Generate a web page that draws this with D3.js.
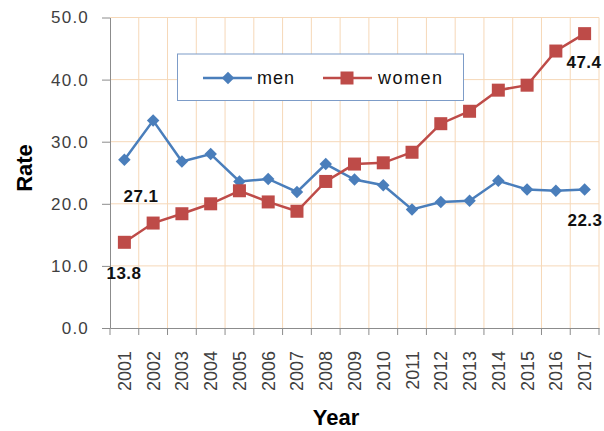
<!DOCTYPE html>
<html>
<head>
<meta charset="utf-8">
<script src="https://cdn.jsdelivr.net/npm/d3@7"></script>
<style>
  body { margin: 0; background: #fff; }
  svg { font-family: Arial, "Liberation Sans", sans-serif; }
</style>
</head>
<body>
<div id="chart"></div>
<script>
// --- Data ---
const years = ['2001','2002','2003','2004','2005','2006','2007','2008','2009',
               '2010','2011','2012','2013','2014','2015','2016','2017'];
const men =   [27.1, 33.4, 26.8, 28.0, 23.6, 24.0, 21.9, 26.4, 23.9, 23.0, 19.1, 20.3, 20.5, 23.7, 22.3, 22.1, 22.3];
const women = [13.8, 16.9, 18.4, 20.0, 22.1, 20.3, 18.8, 23.6, 26.4, 26.6, 28.3, 32.9, 34.9, 38.3, 39.1, 44.6, 47.4];
const yTicks = [0, 10, 20, 30, 40, 50];

// --- Setup ---
const W = 604, H = 431;
const m = { left: 110, right: 5, top: 17.5, bottom: 103 };
const svg = d3.select('#chart').append('svg').attr('width', W).attr('height', H);

const x = d3.scaleBand().domain(years).range([m.left, W - m.right]);
const y = d3.scaleLinear().domain([0, 50]).range([H - m.bottom, m.top]);

const gridColor = '#f6d8b8';
const axisColor = '#8c8c8c';
const blue = '#4a7ebb', red = '#be4b48';
const font = 'Arial, "Liberation Sans", sans-serif';

// grid
const grid = svg.append('g');
grid.selectAll('.hg').data(yTicks.slice(1)).join('line')
  .attr('x1', m.left).attr('x2', W - m.right)
  .attr('y1', d => y(d)).attr('y2', d => y(d))
  .attr('stroke', gridColor).attr('stroke-width', 1);
grid.selectAll('.vg').data(years).join('line')
  .attr('x1', d => x(d) + x.bandwidth()).attr('x2', d => x(d) + x.bandwidth())
  .attr('y1', y(50)).attr('y2', y(0))
  .attr('stroke', gridColor).attr('stroke-width', 1);

// y axis
const yAxis = svg.append('g').attr('transform', `translate(${m.left},0)`)
  .call(d3.axisLeft(y).tickValues(yTicks).tickFormat(d3.format('.1f')).tickSize(8).tickSizeOuter(0));
yAxis.select('.domain').attr('stroke', axisColor);
yAxis.selectAll('.tick line').attr('stroke', axisColor);
yAxis.selectAll('.tick text').attr('x', -21).attr('fill', '#404040')
  .style('font-size', '17px').style('letter-spacing', '1.2px').style('font-family', font);

// x axis
const xAxis = svg.append('g').attr('transform', `translate(0,${y(0)})`)
  .call(d3.axisBottom(x).tickSize(0).tickSizeOuter(0));
xAxis.select('.domain').attr('stroke', axisColor);
xAxis.selectAll('.tick text')
  .attr('transform', 'rotate(-90)')
  .attr('x', -23).attr('y', 0).attr('dy', '0.36em')
  .attr('text-anchor', 'end').attr('fill', '#404040')
  .style('font-size', '18px').style('font-family', font);
// band boundary tick marks
xAxis.selectAll('.bt').data([years[0]].concat(years)).join('line')
  .attr('x1', (d, i) => i === 0 ? x(d) : x(d) + x.bandwidth())
  .attr('x2', (d, i) => i === 0 ? x(d) : x(d) + x.bandwidth())
  .attr('y1', 0).attr('y2', 7).attr('stroke', axisColor);

// axis titles
svg.append('text').attr('transform', `translate(32,168) rotate(-90)`)
  .attr('text-anchor', 'middle').attr('font-weight', 'bold').attr('font-size', 22)
  .text('Rate');
svg.append('text').attr('x', 336).attr('y', 425)
  .attr('text-anchor', 'middle').attr('font-weight', 'bold').attr('font-size', 22)
  .text('Year');

// lines
const cx = d => x(d) + x.bandwidth() / 2;
const line = d3.line().x((d, i) => cx(years[i])).y(d => y(d));

svg.append('path').datum(men).attr('d', line)
  .attr('fill', 'none').attr('stroke', blue).attr('stroke-width', 2.5);
svg.append('path').datum(women).attr('d', line)
  .attr('fill', 'none').attr('stroke', red).attr('stroke-width', 2.5);

const diamond = d3.symbol().type(d3.symbolSquare).size(78);
svg.selectAll('.mm').data(men).join('path')
  .attr('d', diamond())
  .attr('transform', (d, i) => `translate(${cx(years[i])},${y(d)}) rotate(45)`)
  .attr('fill', blue);
const sq = 13;
svg.selectAll('.wm').data(women).join('rect')
  .attr('x', (d, i) => cx(years[i]) - sq / 2).attr('y', d => y(d) - sq / 2)
  .attr('width', sq).attr('height', sq).attr('fill', red);

// data labels (first and last points)
const labels = [
  { v: men[0], x: 141, y: 202 },
  { v: women[0], x: 124, y: 279 },
  { v: women[16], x: 584, y: 68 },
  { v: men[16], x: 585, y: 226 }
];
svg.selectAll('.lbl').data(labels).join('text')
  .attr('x', d => d.x).attr('y', d => d.y)
  .attr('text-anchor', 'middle').attr('font-weight', 'bold').attr('font-size', 17)
  .style('letter-spacing', '0.5px')
  .attr('fill', '#111').text(d => d3.format('.1f')(d.v));

// legend
const lg = svg.append('g');
lg.append('rect').attr('x', 177.5).attr('y', 54).attr('width', 286).attr('height', 46.5)
  .attr('fill', '#fff').attr('stroke', '#7d9cc8').attr('stroke-width', 1);
lg.append('line').attr('x1', 203).attr('x2', 252).attr('y1', 78).attr('y2', 78)
  .attr('stroke', blue).attr('stroke-width', 2.5);
lg.append('path').attr('d', diamond()).attr('transform', 'translate(228,78) rotate(45)').attr('fill', blue);
lg.append('text').attr('x', 257).attr('y', 78).attr('dy', '0.35em').attr('font-size', 18)
  .style('letter-spacing', '1px').attr('fill', '#111').text('men');
lg.append('line').attr('x1', 323).attr('x2', 372).attr('y1', 78).attr('y2', 78)
  .attr('stroke', red).attr('stroke-width', 2.5);
lg.append('rect').attr('x', 347 - sq / 2).attr('y', 78 - sq / 2).attr('width', sq).attr('height', sq).attr('fill', red);
lg.append('text').attr('x', 378).attr('y', 78).attr('dy', '0.35em').attr('font-size', 18)
  .style('letter-spacing', '1.5px').attr('fill', '#111').text('women');
</script>
</body>
</html>
